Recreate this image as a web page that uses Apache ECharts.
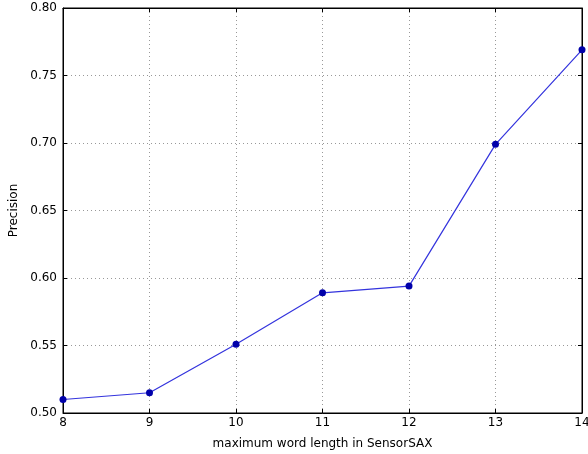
<!DOCTYPE html>
<html>
<head>
<meta charset="utf-8">
<script src="https://cdn.jsdelivr.net/npm/echarts@6/dist/echarts.min.js"></script>
<style>html,body{margin:0;padding:0;background:#fff;}#c{width:588px;height:454px;}</style>
</head>
<body>
<div id="c"></div>
<script>
const wordLengths = [8, 9, 10, 11, 12, 13, 14];
const precision = [0.510, 0.515, 0.551, 0.589, 0.594, 0.699, 0.769];
const xTicks = [8, 9, 10, 11, 12, 13, 14];
const yTicks = [0.50, 0.55, 0.60, 0.65, 0.70, 0.75, 0.80];

const chart = echarts.init(document.getElementById('c'));
const font = 'DejaVu Sans';
const gridLine = {show: true, lineStyle: {color: '#999', type: [1, 3], width: 1}};
const axisLineStyle = {show: true, lineStyle: {color: '#000', width: 1}};
chart.setOption({
  animation: false,
  grid: {left: 63, right: 6, top: 8, bottom: 41, show: true, borderColor: '#000', borderWidth: 1,
    containLabel: false, outerBoundsMode: 'none'},
  xAxis: [{
    type: 'value', min: 8, max: 14, interval: 1,
    name: 'maximum word length in SensorSAX', nameLocation: 'middle', nameGap: 25,
    nameTextStyle: {fontFamily: font, fontSize: 12, color: '#000'},
    axisLine: axisLineStyle,
    axisTick: {show: true, inside: true, length: 4, lineStyle: {color: '#000'}},
    axisLabel: {fontFamily: font, fontSize: 12, color: '#000', margin: 4,
      formatter: v => xTicks.includes(v) ? String(v) : ''},
    splitLine: gridLine
  }, {
    type: 'value', position: 'top', min: 8, max: 14, interval: 1,
    axisLine: axisLineStyle,
    axisTick: {show: true, inside: true, length: 4, lineStyle: {color: '#000'}},
    axisLabel: {show: false}, splitLine: {show: false}
  }],
  yAxis: [{
    type: 'value', min: 0.5, max: 0.8, interval: 0.05,
    name: 'Precision', nameLocation: 'middle', nameGap: 39,
    nameTextStyle: {fontFamily: font, fontSize: 12, color: '#000'},
    axisLine: axisLineStyle,
    axisTick: {show: true, inside: true, length: 4, lineStyle: {color: '#000'}},
    axisLabel: {fontFamily: font, fontSize: 12, color: '#000', margin: 6,
      formatter: v => v.toFixed(2)},
    splitLine: gridLine
  }, {
    type: 'value', position: 'right', min: 0.5, max: 0.8, interval: 0.05,
    axisLine: axisLineStyle,
    axisTick: {show: true, inside: true, length: 4, lineStyle: {color: '#000'}},
    axisLabel: {show: false}, splitLine: {show: false}
  }],
  series: [{
    type: 'line',
    data: wordLengths.map((x, i) => [x, precision[i]]),
    symbol: 'circle', symbolSize: 7,
    lineStyle: {color: '#3333dd', width: 1.2},
    itemStyle: {color: '#0000aa'},
    clip: false
  }]
});
</script>
</body>
</html>
